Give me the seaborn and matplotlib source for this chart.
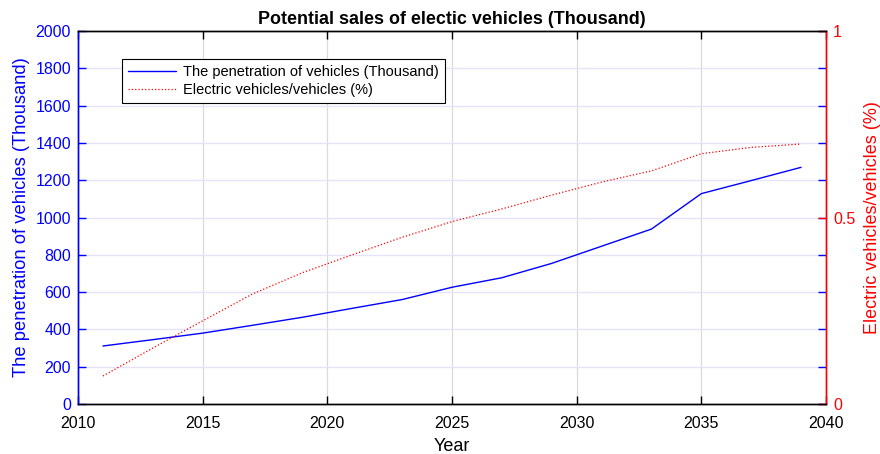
import numpy as np
import pandas as pd
import matplotlib
matplotlib.use("Agg")
import matplotlib.pyplot as plt
import seaborn as sns

# Forecast years and the two series
years = [2011, 2013, 2015, 2017, 2019, 2021, 2023, 2025, 2027, 2029, 2031, 2033, 2035, 2037, 2039]
vehicles_thousand = [311, 345, 380, 422, 465, 513, 560, 626, 677, 754, 846, 938, 1128, 1198, 1269]
ev_share = [0.075, 0.15, 0.223, 0.295, 0.352, 0.40, 0.447, 0.489, 0.523, 0.56, 0.595, 0.625, 0.671, 0.688, 0.697]

x_ticks = [2010, 2015, 2020, 2025, 2030, 2035, 2040]
left_ticks = list(range(0, 2001, 200))
right_ticks = [0, 0.5, 1]

df = pd.DataFrame({"Year": years, "vehicles": vehicles_thousand, "share": ev_share})

sns.set_theme(style="white")
plt.rcParams["font.family"] = ["Liberation Sans", "DejaVu Sans"]
plt.rcParams["text.color"] = "black"

fig = plt.figure(figsize=(8.8, 4.54), dpi=100)
ax = fig.add_axes([78 / 880, 1 - 404 / 454, 748 / 880, 373 / 454])
ax2 = ax.twinx()

blue = "#0000ff"
red = "#ff0000"

sns.lineplot(data=df, x="Year", y="vehicles", ax=ax, color=blue, lw=1.0,
             label="The penetration of vehicles (Thousand)", legend=False)
sns.lineplot(data=df, x="Year", y="share", ax=ax2, color=red, lw=0.9,
             linestyle=":", label="Electric vehicles/vehicles (%)", legend=False)

ax.set_xlim(2010, 2040)
ax.set_ylim(0, 2000)
ax2.set_ylim(0, 1)
ax.set_xticks(x_ticks)
ax.set_yticks(left_ticks)
ax2.set_yticks(right_ticks)
ax2.set_yticklabels(["0", "0.5", "1"])

# grid: grey verticals, faint blue horizontals
ax.grid(False)
ax2.grid(False)
for xv in x_ticks[1:-1]:
    ax.axvline(xv, color="#dadade", lw=0.9, zorder=0)
for yv in left_ticks[1:-1]:
    ax.axhline(yv, color="#e3e3fb", lw=1.0, zorder=0)

# spines
for a in (ax, ax2):
    a.spines["top"].set_color("black")
    a.spines["bottom"].set_color("black")
    a.spines["left"].set_color(blue)
    a.spines["right"].set_color(red)
    for s in a.spines.values():
        s.set_linewidth(1.0)

ax.tick_params(axis="x", direction="in", length=6, width=1, colors="black",
               top=True, bottom=True, labelsize=11.5, pad=9)
ax.tick_params(axis="y", direction="in", length=6, width=1, colors=blue,
               left=True, right=True, labelsize=11.5, pad=5)
ax2.tick_params(axis="y", direction="in", length=6, width=1, colors=red,
                right=True, left=False, labelsize=11.5, pad=5)

ax.set_xlabel("Year", fontsize=13, color="black", labelpad=5)
ax.set_ylabel("The penetration of vehicles (Thousand)", fontsize=13.2, color=blue, labelpad=4)
ax2.set_ylabel("Electric vehicles/vehicles (%)", fontsize=13, color=red, labelpad=6)
ax.set_title("Potential sales of electic vehicles (Thousand)", fontsize=12.9,
             fontweight="bold", color="black", pad=5)

h1, l1 = ax.get_legend_handles_labels()
h2, l2 = ax2.get_legend_handles_labels()
leg = ax2.legend(h1 + h2, l1 + l2, loc="upper left",
                 bbox_to_anchor=(122 / 880, 1 - 59 / 454), bbox_transform=fig.transFigure,
                 fontsize=10.5, frameon=True, fancybox=False, edgecolor="black",
                 framealpha=1, handlelength=3.3, borderpad=0.4, labelspacing=0.3,
                 handletextpad=0.5, borderaxespad=0)
leg.get_frame().set_linewidth(0.8)
for t in leg.get_texts():
    t.set_color("black")

fig.savefig("out.png", dpi=100)
